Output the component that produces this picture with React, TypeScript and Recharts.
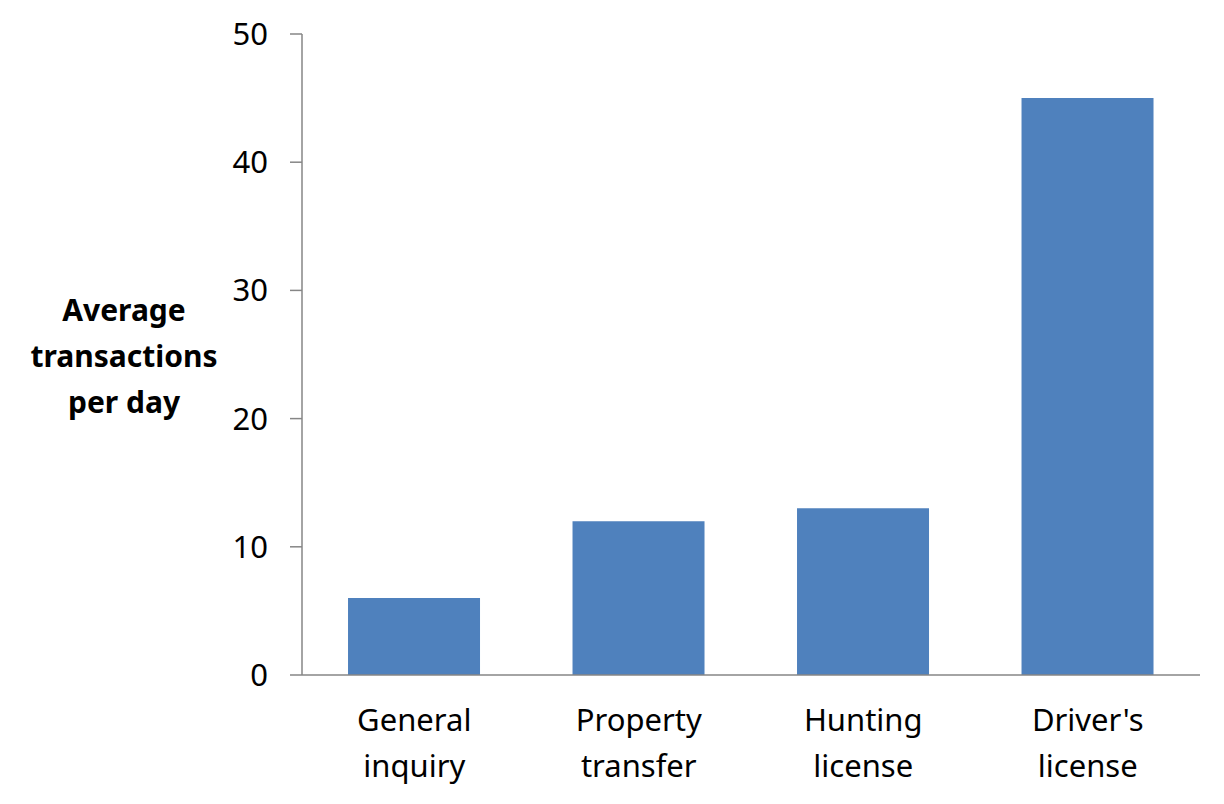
import { BarChart, Bar, XAxis, YAxis } from 'recharts';

const categories: string[][] = [
  ['General', 'inquiry'],
  ['Property', 'transfer'],
  ['Hunting', 'license'],
  ["Driver's", 'license'],
];
const transactions: number[] = [6, 12, 13, 45];
const yTicks: number[] = [0, 10, 20, 30, 40, 50];
const yLabelLines: string[] = ['Average', 'transactions', 'per day'];

const data = categories.map((c, i) => ({ name: c.join(' '), lines: c, value: transactions[i] }));

const FONT = '"Noto Sans", "Open Sans", sans-serif';

const CategoryTick = (props: any) => {
  const { x, y, payload } = props;
  const lines = data[payload.index]?.lines ?? [payload.value];
  return (
    <text x={x} y={y} textAnchor="middle" fill="#000" fontSize={31} fontFamily={FONT}>
      {lines.map((l: string, i: number) => (
        <tspan key={i} x={x} dy={i === 0 ? 48 : 46}>{l}</tspan>
      ))}
    </text>
  );
};

const YTitle = () => (
  <text x={124} y={0} textAnchor="middle" fill="#000" fontSize={30} fontWeight="bold" fontFamily={FONT}>
    {yLabelLines.map((l, i) => (
      <tspan key={i} x={124} y={321 + i * 46}>{l}</tspan>
    ))}
  </text>
);

export default function App() {
  return (
    <div style={{ position: 'absolute', left: 0, top: 0, background: '#fff' }}>
      <BarChart
        width={1224}
        height={804}
        data={data}
        margin={{ top: 34, right: 24, bottom: 0, left: 222 }}
        barCategoryGap="20.5%"
      >
        <XAxis
          dataKey="name"
          axisLine={{ stroke: '#868686', strokeWidth: 1.5 }}
          tickLine={false}
          tick={<CategoryTick />}
          interval={0}
          height={129}
        />
        <YAxis
          domain={[0, 50]}
          ticks={yTicks}
          width={80}
          axisLine={{ stroke: '#868686', strokeWidth: 1.5 }}
          tickLine={{ stroke: '#868686', strokeWidth: 1.5 }}
          tickSize={12}
          tickMargin={22}
          tick={{ fill: '#000', fontSize: 31, fontFamily: FONT }}
          label={<YTitle />}
        />
        <Bar dataKey="value" fill="#4f81bd" isAnimationActive={false} />
      </BarChart>
    </div>
  );
}
